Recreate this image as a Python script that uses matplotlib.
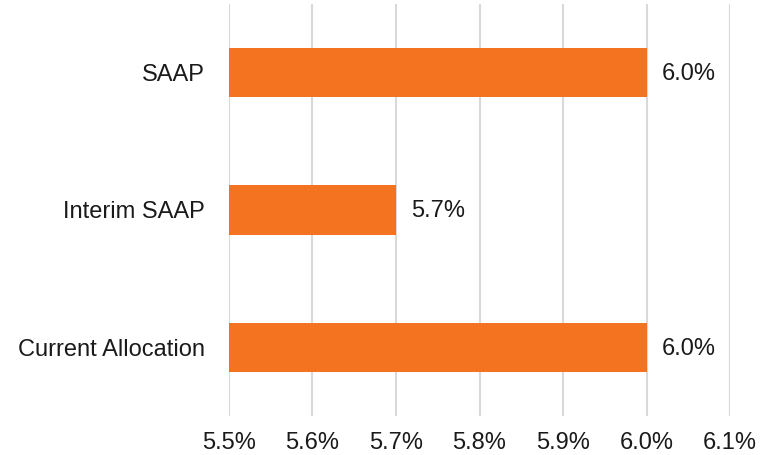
import matplotlib
matplotlib.use("Agg")
import matplotlib.pyplot as plt

categories = ["Current Allocation", "Interim SAAP", "SAAP"]
values = [6.0, 5.7, 6.0]
tick_values = [5.5, 5.6, 5.7, 5.8, 5.9, 6.0, 6.1]
tick_labels = ["5.5%", "5.6%", "5.7%", "5.8%", "5.9%", "6.0%", "6.1%"]

plt.rcParams['font.family'] = ['Liberation Sans', 'DejaVu Sans']
FS = 17
TXT = "#1a1a1a"

fig = plt.figure(figsize=(7.72, 4.55), dpi=100)
ax = fig.add_axes([229/772, 1-416/455, (730-229)/772, (416-4)/455])

ax.barh(range(len(categories)), [v - 5.5 for v in values], left=5.5,
        height=0.36, color="#F47321", zorder=3)
ax.set_xlim(5.5, 6.1)
ax.set_ylim(-0.5, len(categories) - 0.5)
ax.set_xticks(tick_values)
ax.set_xticklabels(tick_labels, fontsize=FS, color=TXT)
ax.set_yticks(range(len(categories)))
ax.set_yticklabels(categories, fontsize=FS, color=TXT)
ax.tick_params(axis='x', length=0, pad=11.5)
ax.tick_params(axis='y', length=0, pad=17.5)
ax.grid(axis='x', color="#D9D9D9", linewidth=1.5, zorder=0)
for s in ax.spines.values():
    s.set_visible(False)

for i, v in enumerate(values):
    ax.annotate(f"{v:.1f}%", xy=(v, i), xytext=(11, -1), textcoords='offset points',
                va='center', ha='left', fontsize=FS, color=TXT)

fig.savefig("out.png", dpi=100)
